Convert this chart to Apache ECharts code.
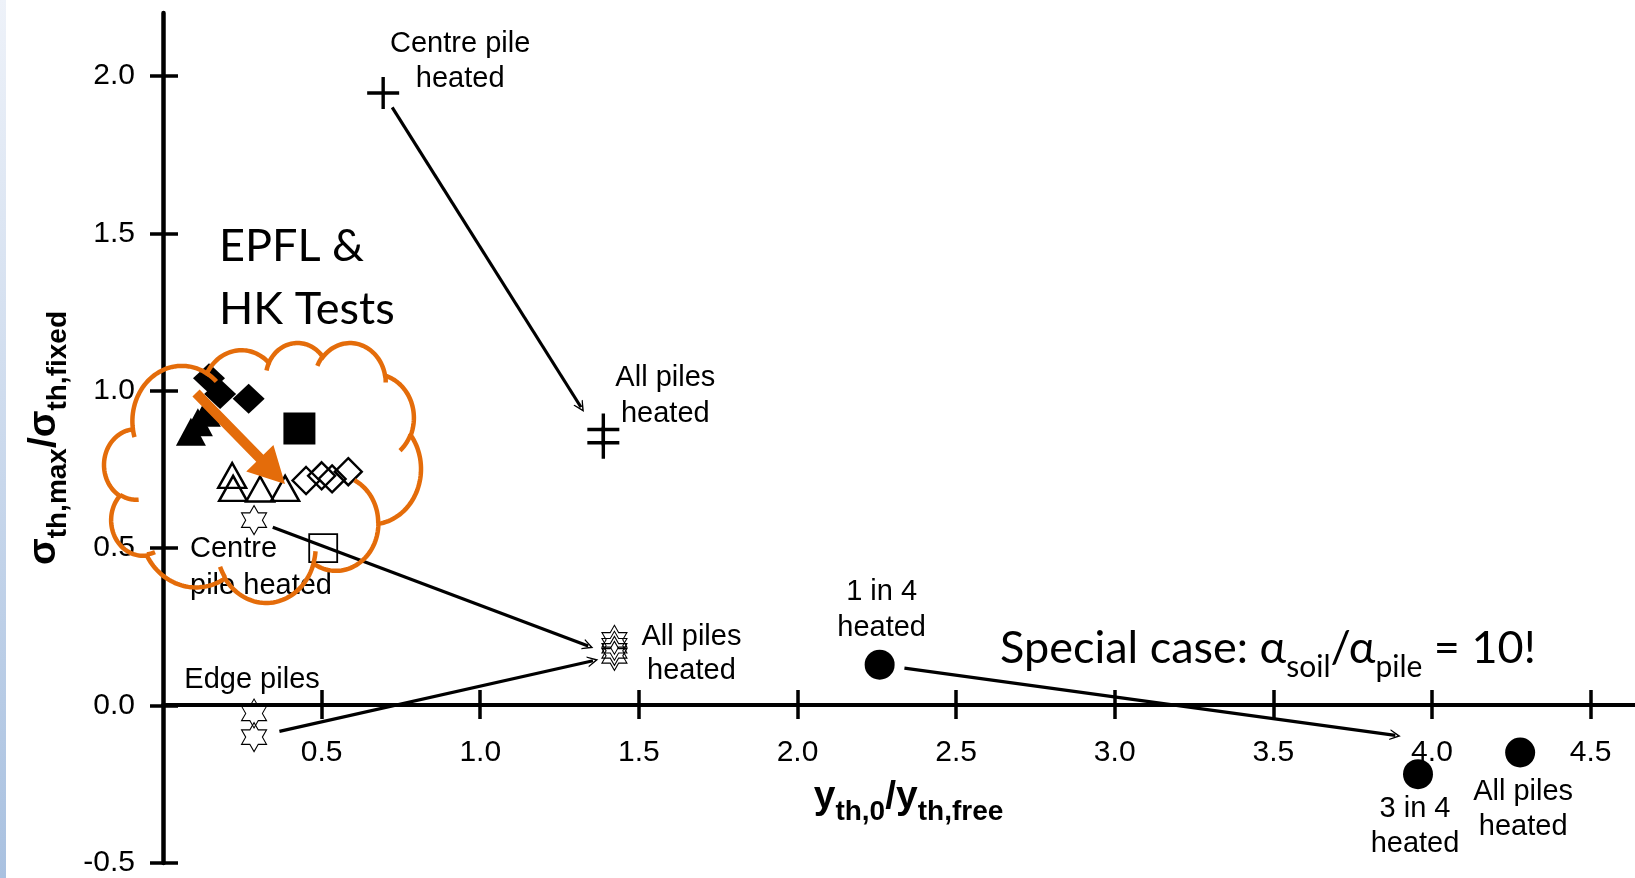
<!DOCTYPE html>
<html>
<head>
<meta charset="utf-8">
<script src="https://cdn.jsdelivr.net/npm/echarts@6/dist/echarts.min.js"></script>
<style>
  html, body { margin: 0; padding: 0; background: #fff; }
  #chart { width: 1635px; height: 878px; }
</style>
</head>
<body>
<div id="chart"></div>
<script>
// ---- data: x = y_th,0 / y_th,free , y = σ_th,max / σ_th,fixed ----
const xTicks = [0.5, 1.0, 1.5, 2.0, 2.5, 3.0, 3.5, 4.0, 4.5];
const yTicks = [-0.5, 0.0, 0.5, 1.0, 1.5, 2.0];

// EPFL & HK tests
const testFilledDiamonds = [[0.145, 1.04], [0.18, 0.99], [0.27, 0.975]];
const testFilledTriangles = [[0.088, 0.87], [0.11, 0.90], [0.135, 0.93]];
const testFilledSquare = [[0.43, 0.88]];
const testOpenTriangles = [[0.218, 0.731], [0.221, 0.69], [0.306, 0.688], [0.385, 0.69]];
const testOpenDiamonds = [[0.451, 0.715], [0.50, 0.73], [0.533, 0.72], [0.584, 0.743]];
const testOpenSquare = [[0.505, 0.50]];

// numerical cases
const crossCentreHeated = [[0.694, 1.946]];
const crossAllHeated = [[1.388, 0.877], [1.388, 0.835]];
const starCentreHeated = [[0.287, 0.589]];
const starAllHeated = [[1.423, 0.209], [1.423, 0.19], [1.423, 0.174], [1.423, 0.158]];
const starEdgeHeated = [[0.287, -0.025], [0.287, -0.10]];
// special case α_soil/α_pile = 10: 1 in 4, 3 in 4, all piles heated
const specialCase = [[2.259, 0.13], [3.956, -0.218], [4.278, -0.149]];

// ---- layout ----
const W = 1635, H = 878;
const X_MIN = 0, X_MAX = 4.64, Y_MIN = -0.5, Y_MAX = 2.2;
const GRID = { left: 163, right: 0, top: 13, bottom: 12 };
const plotW = W - GRID.left - GRID.right, plotH = H - GRID.top - GRID.bottom;
const FONT = '"Liberation Sans", Arial, Helvetica, sans-serif';
const FONT_SLIDE = 'Lato, "Open Sans", "Noto Sans", sans-serif';
const INK = '#000';
const ORANGE = '#E46C0A';

const toPx = p => [GRID.left + (p[0] - X_MIN) / (X_MAX - X_MIN) * plotW,
                   GRID.top + (Y_MAX - p[1]) / (Y_MAX - Y_MIN) * plotH];
const toData = q => [X_MIN + (q[0] - GRID.left) / plotW * (X_MAX - X_MIN),
                     Y_MAX - (q[1] - GRID.top) / plotH * (Y_MAX - Y_MIN)];
// the x axis runs along y = 0: shift it up from the grid's bottom edge
const X_AXIS_OFFSET = toPx([0, 0])[1] - (H - GRID.bottom);

// connector arrow between two cases, trimmed (px) at both ends
function trimmed(from, to, t0, t1) {
  const a = toPx(from), b = toPx(to);
  const dx = b[0] - a[0], dy = b[1] - a[1], L = Math.hypot(dx, dy);
  const ux = dx / L, uy = dy / L;
  return [toData([a[0] + ux * t0, a[1] + uy * t0]), toData([b[0] - ux * t1, b[1] - uy * t1])];
}
const arrowLinks = [
  { from: crossCentreHeated[0], to: crossAllHeated[1], trim: [17, 42] },
  { from: starCentreHeated[0], to: starAllHeated[3], trim: [20, 28] },
  { from: starEdgeHeated[1], to: starAllHeated[3], trim: [26, 22] },
  { from: specialCase[0], to: specialCase[2], trim: [25, 126] }
];

// ---- symbols ----
const SYM_PLUS = 'path://M14.3,0H17.7V14.3H32V17.7H17.7V32H14.3V17.7H0V14.3H14.3Z';
const SYM_STAR6 = 'path://M10,0L12.887,5L18.66,5L15.774,10L18.66,15L12.887,15L10,20L7.113,15L1.34,15L4.226,10L1.34,5L7.113,5Z';
const SYM_HEAD = 'path://M5,0L10,12L8.8,12L5,3.6L1.2,12L0,12Z';

function labelled(data, idx, note) {
  return data.map((p, i) => i !== idx ? p : {
    value: p,
    label: {
      show: true, position: 'inside', formatter: note.text,
      fontSize: 29, fontFamily: FONT, color: INK, lineHeight: note.lh || 35,
      align: note.align || 'center', verticalAlign: 'middle', offset: note.offset
    }
  });
}

function scatter(name, data, symbol, size, filled, borderWidth) {
  return {
    type: 'scatter', name, data, symbol, symbolSize: size, z: 3, silent: true,
    itemStyle: filled ? { color: '#000', opacity: 1 }
                      : { color: 'transparent', borderColor: '#000', borderWidth: borderWidth, opacity: 1 },
    emphasis: { disabled: true }
  };
}

// ---- cloud callout outline (arc segments: wR, hR, start angle, sweep, in 1/60000 deg) ----
const CLOUD_START = [3900, 14370];
const CLOUD_ARCS = [
  [6753, 9190, -11429249, 7426832], [5333, 7267, -8646143, 5396714],
  [4365, 5945, -8748475, 5983381], [4857, 6595, -7859164, 7034504],
  [5333, 7273, -4722533, 6541615], [6775, 9220, -2776035, 7816140],
  [5785, 7867, 37501, 6842000], [6752, 9215, 1347096, 6910353],
  [7720, 10543, 3974558, 4542661], [4360, 5918, -16496525, 8804134],
  [4345, 5945, -14809710, 9151131]
];
const CLOUD_CURLS = [
  [4693, 26177, 4345, 5945, 5204520, 1585770], [6928, 34899, 4360, 5918, 4416628, 686848],
  [16478, 39090, 6752, 9215, 8257449, 844866], [28827, 34751, 6752, 9215, 387196, 959901],
  [34129, 22954, 5785, 7867, -4217541, 4255042], [41798, 15354, 5333, 7273, 1819082, 1665090],
  [38324, 5426, 4857, 6595, -824660, 891534], [29078, 3952, 4857, 6595, -8950887, 1091722],
  [22141, 4720, 4365, 5945, -9809656, 1061181], [14000, 5192, 6753, 9190, -4002417, 739161],
  [4127, 15789, 6753, 9190, 9459261, 711490]
];
function sampleArc(cur, wR, hR, st, sw, out) {
  const d2r = Math.PI / 180;
  const a1 = st / 60000 * d2r, a2 = (st + sw) / 60000 * d2r, s = sw / 60000 * d2r;
  const par = a => Math.atan2(wR * Math.sin(a), hR * Math.cos(a));
  const t1 = par(a1);
  let dt = par(a2) - t1;
  dt += 2 * Math.PI * Math.round((s - dt) / (2 * Math.PI));
  const cx = cur[0] - wR * Math.cos(t1), cy = cur[1] - hR * Math.sin(t1);
  const n = 40;
  let last = cur;
  for (let i = 1; i <= n; i++) {
    const t = t1 + dt * i / n;
    last = [cx + wR * Math.cos(t), cy + hR * Math.sin(t)];
    out.push(last);
  }
  return last;
}
function buildCloud(box) {
  const main = [CLOUD_START.slice()];
  let cur = CLOUD_START.slice();
  CLOUD_ARCS.forEach(a => { cur = sampleArc(cur, a[0], a[1], a[2], a[3], main); });
  const curls = CLOUD_CURLS.map(c => {
    const pts = [[c[0], c[1]]];
    sampleArc([c[0], c[1]], c[2], c[3], c[4], c[5], pts);
    return pts;
  });
  const xs = main.map(p => p[0]), ys = main.map(p => p[1]);
  const minX = Math.min(...xs), maxX = Math.max(...xs), minY = Math.min(...ys), maxY = Math.max(...ys);
  const map = p => [box.x0 + (p[0] - minX) / (maxX - minX) * (box.x1 - box.x0),
                    box.y0 + (p[1] - minY) / (maxY - minY) * (box.y1 - box.y0)];
  return { main: main.map(map), curls: curls.map(c => c.map(map)) };
}
const cloud = buildCloud({ x0: 104, x1: 421, y0: 343, y1: 603 });

// block arrow inside the cloud
function blockArrow(S, T, shaft, headLen, headHalf) {
  const dx = T[0] - S[0], dy = T[1] - S[1], L = Math.hypot(dx, dy);
  const u = [dx / L, dy / L], n = [-u[1], u[0]];
  const B = [T[0] - u[0] * headLen, T[1] - u[1] * headLen];
  const off = (P, k) => [P[0] + n[0] * k, P[1] + n[1] * k];
  return [off(S, shaft), off(B, shaft), off(B, headHalf), T, off(B, -headHalf), off(B, -shaft), off(S, -shaft)];
}

const subRich = (main, sub, pad) => ({
  m: { fontSize: main, fontWeight: 'bold', fontFamily: FONT, color: INK, lineHeight: main + 5, verticalAlign: 'top' },
  s: { fontSize: sub, fontWeight: 'bold', fontFamily: FONT, color: INK, lineHeight: sub, padding: [pad, 0, 0, 0], verticalAlign: 'top' }
});

const chart = echarts.init(document.getElementById('chart'), null, { renderer: 'canvas' });
const tickStyle = { color: '#000', width: 3.5 };

chart.setOption({
  animation: false,
  backgroundColor: '#fff',
  grid: Object.assign({ containLabel: false }, GRID),
  xAxis: [
    {
      type: 'value', min: X_MIN, max: X_MAX, position: 'bottom', offset: X_AXIS_OFFSET,
      axisLine: { show: true, onZero: false, lineStyle: { color: '#000', width: 4 } },
      axisTick: { show: true, customValues: xTicks, length: 14, lineStyle: tickStyle },
      axisLabel: { show: true, customValues: xTicks, formatter: v => Number(v).toFixed(1), margin: 33,
                   fontSize: 30, fontFamily: FONT, color: INK },
      splitLine: { show: false },
      name: '{m|y}{s|th,0}{m|/y}{s|th,free}', nameLocation: 'middle', nameGap: 73,
      nameTextStyle: { rich: subRich(39, 28, 20), padding: [0, 0, 0, 19] }
    },
    {
      // upper half of the crossing tick marks
      type: 'value', min: X_MIN, max: X_MAX, position: 'bottom', offset: X_AXIS_OFFSET,
      axisLine: { show: false, onZero: false },
      axisTick: { show: true, inside: true, customValues: xTicks, length: 15, lineStyle: tickStyle },
      axisLabel: { show: false }, splitLine: { show: false }
    }
  ],
  yAxis: [
    {
      type: 'value', min: Y_MIN, max: Y_MAX, position: 'left',
      axisLine: { show: true, onZero: true, lineStyle: { color: '#000', width: 4.5 } },
      axisTick: { show: true, customValues: yTicks, length: 13, lineStyle: tickStyle },
      axisLabel: { customValues: yTicks, formatter: v => Number(v).toFixed(1), margin: 28, fontSize: 30, fontFamily: FONT, color: INK },
      splitLine: { show: false },
      name: '{m|σ}{s|th,max}{m|/σ}{s|th,fixed}', nameLocation: 'middle', nameRotate: 90, nameGap: 90,
      nameTextStyle: { rich: subRich(39, 28, 20) }
    },
    {
      // right half of the crossing tick marks
      type: 'value', min: Y_MIN, max: Y_MAX, position: 'left',
      axisLine: { show: false, onZero: true },
      axisTick: { show: true, inside: true, customValues: yTicks, length: 15, lineStyle: tickStyle },
      axisLabel: { show: false }, splitLine: { show: false }
    }
  ],
  series: [
    {
      type: 'lines', coordinateSystem: 'cartesian2d', z: 2, silent: true,
      symbol: ['none', SYM_HEAD], symbolSize: [9, 11],
      lineStyle: { color: '#000', width: 3.2, opacity: 1 },
      data: arrowLinks.map(l => ({ coords: trimmed(l.from, l.to, l.trim[0], l.trim[1]) }))
    },
    scatter('filled triangles', testFilledTriangles, 'triangle', [30, 28], true),
    scatter('filled diamonds', testFilledDiamonds, 'diamond', [32, 30], true),
    scatter('filled square', testFilledSquare, 'rect', 32, true),
    scatter('open triangles', testOpenTriangles, 'triangle', [28, 25], false, 2.4),
    scatter('open diamonds', testOpenDiamonds, 'diamond', [27, 27], false, 2.4),
    scatter('open square', testOpenSquare, 'rect', 28, false, 1.8),
    scatter('centre pile heated (+)',
      labelled(crossCentreHeated, 0, { text: 'Centre pile\nheated', offset: [77, -31] }), SYM_PLUS, 32, true),
    scatter('all piles heated (+)',
      labelled(crossAllHeated, 0, { text: 'All piles\nheated', offset: [62, -34], lh: 36 }), SYM_PLUS, 32, true),
    scatter('centre pile heated (star)',
      labelled(starCentreHeated, 0, { text: 'Centre\npile heated', offset: [-64, 47], align: 'left', lh: 37 }), SYM_STAR6, [25, 29], false, 1.1),
    scatter('all piles heated (star)',
      labelled(starAllHeated, 0, { text: 'All piles\nheated', offset: [77, 14], lh: 34 }), SYM_STAR6, [25, 29], false, 1.1),
    scatter('edge piles heated (star)',
      labelled(starEdgeHeated, 0, { text: 'Edge piles', offset: [-2, -33] }), SYM_STAR6, [25, 29], false, 1.1),
    scatter('special case', specialCase.map((p, i) => {
      const notes = [
        { text: '1 in 4\nheated', offset: [2, -55], lh: 36 },
        { text: '3 in 4\nheated', offset: [-3, 52] },
        { text: 'All piles\nheated', offset: [3, 57] }
      ];
      return labelled([p], 0, notes[i])[0];
    }), 'circle', 30, true)
  ],
  graphic: [
    {
      type: 'rect', left: 0, top: 0, silent: true, z: 1,
      shape: { width: 6, height: H },
      style: {
        fill: { type: 'linear', x: 0, y: 0, x2: 0, y2: 1,
                colorStops: [{ offset: 0, color: '#eef2f9' }, { offset: 1, color: '#a9c1e0' }] }
      }
    },
    {
      type: 'polygon', silent: true, z: 50,
      shape: { points: cloud.main },
      style: { fill: 'none', stroke: ORANGE, lineWidth: 4.5 }
    },
    ...cloud.curls.map(pts => ({
      type: 'polyline', silent: true, z: 50,
      shape: { points: pts },
      style: { fill: 'none', stroke: ORANGE, lineWidth: 4.5 }
    })),
    {
      type: 'polygon', silent: true, z: 51,
      shape: { points: blockArrow([196, 393], [285, 484], 5, 36, 19) },
      style: { fill: ORANGE }
    },
    {
      type: 'text', left: 219, top: 215, silent: true, z: 52,
      style: { text: 'EPFL &\nHK Tests', fontFamily: FONT_SLIDE, fontSize: 45, lineHeight: 63, fill: INK }
    },
    {
      type: 'text', left: 1000, top: 626, silent: true, z: 52,
      style: {
        text: '{m|Special case: α}{s|soil}{m|/α}{s|pile}{m| = 10!}',
        rich: {
          m: { fontSize: 45, fontFamily: FONT_SLIDE, fill: INK, lineHeight: 52, verticalAlign: 'top' },
          s: { fontSize: 30, fontFamily: FONT_SLIDE, fill: INK, lineHeight: 30, padding: [26, 0, 0, 0], verticalAlign: 'top' }
        }
      }
    }
  ]
});
</script>
</body>
</html>
